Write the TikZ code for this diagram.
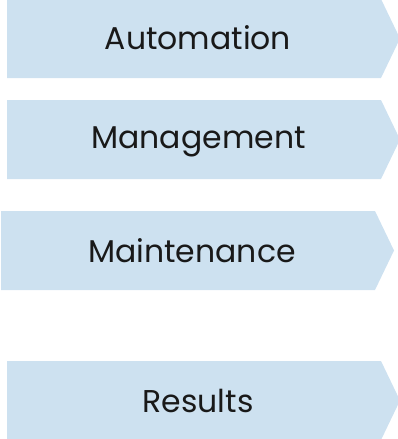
\documentclass[tikz,border=0pt]{standalone}
\usepackage{fontspec}
\usepackage{xcolor}
\setmainfont{Poppins}
\definecolor{stepfill}{HTML}{CDE1F0}

\begin{document}
\begin{tikzpicture}[
    x=1pt, y=-1pt,
    stage/.style={fill=stepfill},
    stagelabel/.style={anchor=base, inner sep=0pt, text=black!90,
                       font=\fontsize{31.5}{38}\selectfont}
]

\useasboundingbox (0,0) rectangle (398,439);

% left x / top y / text x / baseline y / name / text
\foreach \lx/\ty/\tx/\by/\name/\txt in {
    7/-1/198/49/auto/Automation,
    7/100/198.5/148.3/mgmt/Management,
    1/211/192/262.7/maint/Maintenance,
    7/361/198/412.7/res/Results
}{
    \fill[stage] (\lx,\ty) -- (\lx+374,\ty) -- (\lx+393,\ty+39.5)
        -- (\lx+374,\ty+79) -- (\lx,\ty+79) -- cycle;
    \node[stagelabel] (\name) at (\tx,\by) {\txt};
}

\end{tikzpicture}
\end{document}
